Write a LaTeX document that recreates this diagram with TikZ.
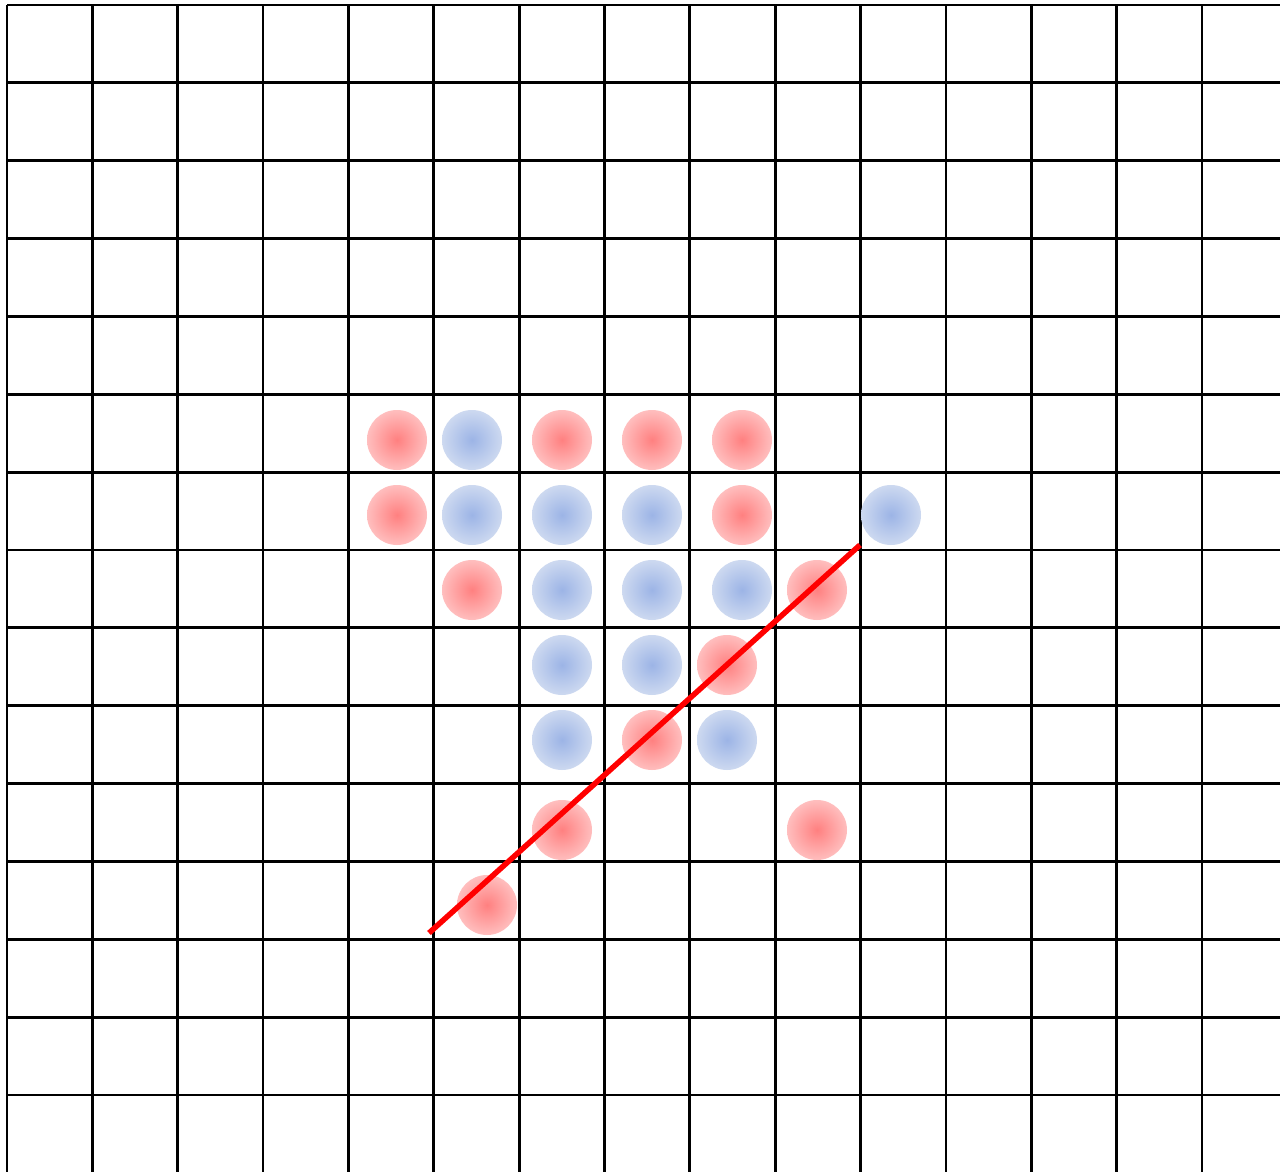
\documentclass[tikz,border=0pt]{standalone}
\begin{document}
\begin{tikzpicture}[x=1pt,y=-1pt,
  gridline/.style={line width=2.8pt,black},
  ball/.style={circle,minimum size=60pt,inner sep=0pt,draw=none},
  redball/.style={ball,inner color={rgb,255:red,255;green,128;blue,128},outer color={rgb,255:red,255;green,190;blue,190}},
  blueball/.style={ball,inner color={rgb,255:red,156;green,180;blue,230},outer color={rgb,255:red,205;green,217;blue,240}},
  redline/.style={line width=5.5pt,red}]
\useasboundingbox (0,0) rectangle (1280,1172);
\fill[white] (0,0) rectangle (1280,1172);
% grid
\foreach \i in {0,...,14}{
  \draw[gridline] ({7+85.36*\i},5) -- ({7+85.36*\i},1175);
  \draw[gridline] (7,{5+77.86*\i}) -- (1285,{5+77.86*\i});
}
% row 1
\node[redball]  (a1) at (397,440) {};
\node[blueball] (a2) at (472,440) {};
\node[redball]  (a3) at (562,440) {};
\node[redball]  (a4) at (652,440) {};
\node[redball]  (a5) at (742,440) {};
% row 2
\node[redball]  (b1) at (397,515) {};
\node[blueball] (b2) at (472,515) {};
\node[blueball] (b3) at (562,515) {};
\node[blueball] (b4) at (652,515) {};
\node[redball]  (b5) at (742,515) {};
\node[blueball] (b6) at (891,515) {};
% row 3
\node[redball]  (c1) at (472,590) {};
\node[blueball] (c2) at (562,590) {};
\node[blueball] (c3) at (652,590) {};
\node[blueball] (c4) at (742,590) {};
\node[redball]  (c5) at (817,590) {};
% row 4
\node[blueball] (d1) at (562,665) {};
\node[blueball] (d2) at (652,665) {};
\node[redball]  (d3) at (727,665) {};
% row 5
\node[blueball] (e1) at (562,740) {};
\node[redball]  (e2) at (652,740) {};
\node[blueball] (e3) at (727,740) {};
% row 6
\node[redball]  (f1) at (562,830) {};
\node[redball]  (f2) at (817,830) {};
% row 7
\node[redball]  (g1) at (487,905) {};
% separating line
\coordinate (ls) at (429,933);
\coordinate (le) at (860,545);
\draw[redline] (ls) -- (le);
\end{tikzpicture}
\end{document}
